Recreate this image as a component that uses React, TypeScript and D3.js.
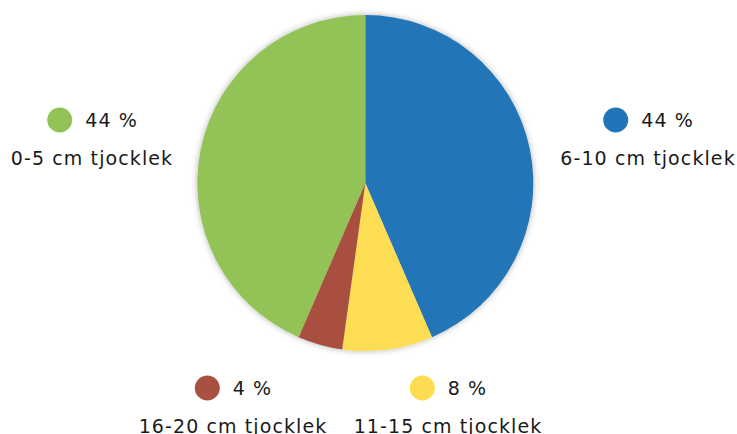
import React from "react";
import * as d3 from "d3";

const categories = ["6-10 cm tjocklek", "11-15 cm tjocklek", "16-20 cm tjocklek", "0-5 cm tjocklek"];
const values = [43.5, 8.7, 4.3, 43.5];
const percentLabels = ["44 %", "8 %", "4 %", "44 %"];
const colors = ["#2174B7", "#FCDD52", "#A85041", "#93C356"];
// label group anchor positions (layout)
const labelPos = [
  [648, 120],
  [448, 388],
  [233, 388],
  [92, 120],
];

const W = 737;
const H = 434;
const cx = 365.3;
const cy = 183;
const R = 168;
const FS = 19;
const LS = 1.1;

function pctWidth(s: string) {
  let w = 0;
  for (const ch of s) {
    if (ch >= "0" && ch <= "9") w += 0.636;
    else if (ch === " ") w += 0.318;
    else if (ch === "%") w += 0.95;
  }
  return w * FS + (s.length - 1) * LS;
}

export default function App() {
  const pie = d3.pie<number>().sort(null).value((d) => d)(values);
  const arc = d3.arc<d3.PieArcDatum<number>>().innerRadius(0).outerRadius(R);
  const font = "DejaVu Sans, sans-serif";
  return (
    <svg width={W} height={H} style={{ position: "absolute", left: 0, top: 0, background: "#fff" }}>
      <defs>
        <filter id="sh" x="-20%" y="-20%" width="140%" height="140%">
          <feDropShadow dx="0" dy="0" stdDeviation="3" floodColor="#000" floodOpacity="0.3" />
        </filter>
      </defs>
      <g transform={`translate(${cx},${cy})`} filter="url(#sh)">
        {pie.map((p, i) => (
          <path key={i} d={arc(p) || ""} fill={colors[i]} />
        ))}
      </g>
      {categories.map((c, i) => {
        const [x, y] = labelPos[i];
        const pct = percentLabels[i];
        const pctW = pctWidth(pct);
        const rowW = 25 + 13 + pctW;
        const x0 = x - rowW / 2;
        return (
          <g key={c} fontFamily={font} fill="#1a1a1a" letterSpacing={LS}>
            <circle cx={x0 + 12.5} cy={y} r={12.5} fill={colors[i]} />
            <text x={x0 + 38} y={y + 7} fontSize={FS}>{pct}</text>
            <text x={x} y={y + 45} fontSize={FS} textAnchor="middle">{c}</text>
          </g>
        );
      })}
    </svg>
  );
}
